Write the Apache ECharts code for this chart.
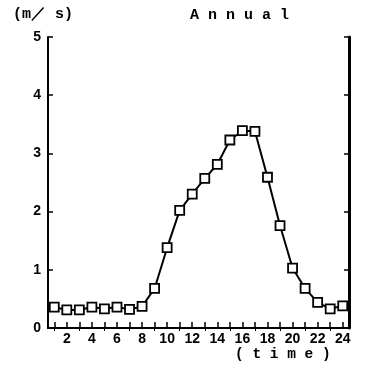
<!DOCTYPE html>
<html>
<head>
<meta charset="utf-8">
<script src="https://cdn.jsdelivr.net/npm/echarts@6/dist/echarts.min.js"></script>
<style>html,body{margin:0;padding:0;background:#fff}#c{width:367px;height:371px}</style>
</head>
<body>
<div id="c"></div>
<script>
const hours = ['1','2','3','4','5','6','7','8','9','10','11','12','13','14','15','16','17','18','19','20','21','22','23','24'];
const speed = [0.36,0.31,0.31,0.36,0.33,0.36,0.32,0.37,0.68,1.38,2.02,2.30,2.57,2.81,3.23,3.39,3.38,2.59,1.76,1.03,0.68,0.44,0.33,0.38];
const yTicks = [0,1,2,3,4,5];

const font = '"Liberation Sans", Arial, sans-serif';
const mono = '"Liberation Mono", "DejaVu Sans Mono", monospace';
const chart = echarts.init(document.getElementById('c'), null, {renderer: 'canvas'});
chart.setOption({
  animation: false,
  backgroundColor: '#fff',
  grid: {left: 48, top: 37, right: 18, bottom: 43, containLabel: false},
  graphic: [
    {type: 'text', left: 13, top: 7, style: {text: '(m／ s)', font: 'bold 15px ' + mono, fill: '#000'}},
    {type: 'text', left: 190, top: 8, style: {text: 'A n n u a l', font: 'bold 15px ' + mono, fill: '#000'}},
    {type: 'text', left: 235, top: 347, style: {text: '( t i m e )', font: 'bold 14.5px ' + mono, fill: '#000'}}
  ],
  xAxis: [
    {
      type: 'category', data: hours, boundaryGap: true, position: 'bottom',
      axisLine: {show: true, lineStyle: {color: '#000', width: 2}},
      axisTick: {show: true, inside: true, length: 6, alignWithLabel: true, interval: 0, lineStyle: {color: '#000', width: 1.5}},
      axisLabel: {interval: function (i) { return i % 2 === 1; }, color: '#000', fontSize: 14, fontWeight: 'bold', fontFamily: font, margin: 4},
      splitLine: {show: false}
    },
    {
      type: 'category', data: hours, boundaryGap: true, position: 'top',
      axisLine: {show: true, lineStyle: {color: '#000', width: 2}},
      axisTick: {show: true, inside: true, length: 3, alignWithLabel: true, interval: 1, lineStyle: {color: '#000', width: 1}},
      axisLabel: {show: false},
      splitLine: {show: false}
    }
  ],
  yAxis: [
    {
      type: 'value', min: 0, max: 5, interval: 1, position: 'left',
      axisLine: {show: true, lineStyle: {color: '#000', width: 2}},
      axisTick: {show: true, inside: true, length: 5, lineStyle: {color: '#000', width: 1.5}},
      axisLabel: {color: '#000', fontSize: 14, fontWeight: 'bold', fontFamily: font, margin: 7,
        formatter: function (v) { return yTicks.indexOf(v) >= 0 ? String(v) : ''; }},
      splitLine: {show: false}
    },
    {
      type: 'value', min: 0, max: 5, interval: 1, position: 'right',
      axisLine: {show: true, lineStyle: {color: '#000', width: 3}},
      axisTick: {show: true, inside: true, length: 5, lineStyle: {color: '#000', width: 1.5}},
      axisLabel: {show: false},
      splitLine: {show: false}
    }
  ],
  series: [{
    type: 'line', data: speed, xAxisIndex: 0, yAxisIndex: 0,
    symbol: 'rect', symbolSize: 9, showSymbol: true, showAllSymbol: true,
    lineStyle: {color: '#000', width: 2},
    itemStyle: {color: '#fff', borderColor: '#000', borderWidth: 1.8}
  }]
});
</script>
</body>
</html>
